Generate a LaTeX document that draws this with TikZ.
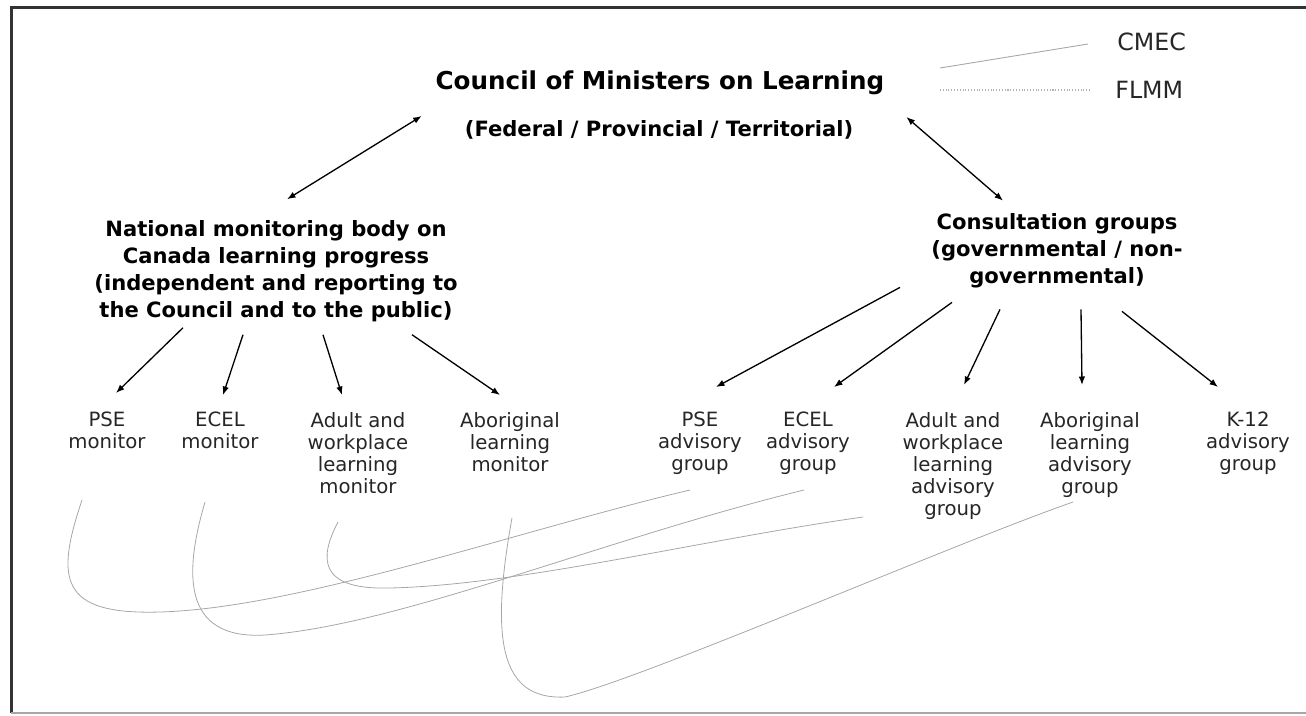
\documentclass[tikz,border=0pt]{standalone}
\usepackage{fontspec}
\setmainfont{DejaVu Sans}
\usetikzlibrary{arrows.meta,calc}

\begin{document}
\begin{tikzpicture}[x=0.2mm,y=-0.2mm,
    arr/.style={-{Latex[length=1.7mm,width=1.3mm]}, line width=0.75pt},
    twoway/.style={{Latex[length=1.7mm,width=1.3mm]}-{Latex[length=1.7mm,width=1.3mm]}, line width=0.75pt},
    link/.style={gray!70, line width=0.45pt},
    head/.style={font=\bfseries\fontsize{12}{15.3}\selectfont, align=center},
    small/.style={font=\fontsize{11.2}{12.5}\selectfont, align=center, inner sep=0pt, anchor=north, text=black!85},
    legend/.style={font=\fontsize{13.5}{16}\selectfont, inner sep=0pt, anchor=west, text=black!85}]
    \useasboundingbox (0,0) rectangle (1306,715);
    % frame
    \draw[black!80, line width=0.6mm] (1306,7) -- (11,7) -- (11,713);
    \draw[black!35, line width=0.4mm] (11,713) -- (1306,713);
    % council
    \node[font=\bfseries\fontsize{14}{17}\selectfont] (council) at (660,83) {Council of Ministers on Learning};
    \node[head] (fpt) at (659,130) {(Federal / Provincial / Territorial)};
    % legend
    \node[legend] (cmec) at (1117,42) {CMEC};
    \node[legend] (flmm) at (1115,90) {FLMM};
    \coordinate (cm) at (940,68); \coordinate (fl) at (940,90);
    \draw[gray!70, line width=0.5pt] (cm) -- ($(cmec.west)+(-29,2)$);
    \draw[gray!60, densely dotted, line width=0.6pt] (fl) -- ($(flmm.west)+(-25,0)$);
    % second level
    \node[head] (mon) at (276,271) {National monitoring body on\\Canada learning progress\\(independent and reporting to\\the Council and to the public)};
    \node[head] (cons) at (1057,251) {Consultation groups\\(governmental / non-\\governmental)};
    \draw[twoway] ($(fpt.west)+(-37,-14)$) -- ($(mon.north)+(11,-15)$);
    \draw[twoway] ($(fpt.east)+(47,-13)$) -- ($(cons.north)+(-54,-7)$);
    % monitors
    \node[small] (psem) at (107,412) {PSE\\monitor};
    \node[small] (ecelm) at (220,412) {ECEL\\monitor};
    \node[small] (adultm) at (358,412) {Adult and\\workplace\\learning\\monitor};
    \node[small] (abm) at (510,412) {Aboriginal\\learning\\monitor};
    \draw[arr] ($(mon.south)+(-93,0)$) -- ($(psem.north)+(9,-19)$);
    \draw[arr] ($(mon.south)+(-33,7)$) -- ($(ecelm.north)+(3,-17)$);
    \draw[arr] ($(mon.south)+(47,7)$) -- ($(adultm.north)+(-16,-17)$);
    \draw[arr] ($(mon.south)+(136,7)$) -- ($(abm.north)+(-10,-17)$);
    % advisory groups
    \node[small] (pseg) at (700,412) {PSE\\advisory\\group};
    \node[small] (ecelg) at (808,412) {ECEL\\advisory\\group};
    \node[small] (adultg) at (953,412) {Adult and\\workplace\\learning\\advisory\\group};
    \node[small] (abg) at (1090,412) {Aboriginal\\learning\\advisory\\group};
    \node[small] (k12g) at (1248,412) {K-12\\advisory\\group};
    \draw[arr] ($(cons.south)+(-157,-7)$) -- ($(pseg.north)+(16,-25)$);
    \draw[arr] ($(cons.south)+(-105,8)$) -- ($(ecelg.north)+(26,-25)$);
    \draw[arr] ($(cons.south)+(-57,15)$) -- ($(adultg.north)+(11,-27)$);
    \draw[arr] ($(cons.south)+(24,15)$) -- ($(abg.north)+(-8,-27)$);
    \draw[arr] ($(cons.south)+(65,17)$) -- ($(k12g.north)+(-30,-25)$);
    % links between monitors and groups
    \coordinate (l1a) at (82,500);  \coordinate (l1b) at (690,490);
    \coordinate (l2a) at (205,502); \coordinate (l2b) at (804,490);
    \coordinate (l3a) at (338,522); \coordinate (l3b) at (863,517);
    \coordinate (l4a) at (512,518); \coordinate (l4b) at (1073,502);
    \draw[link] (l1a) .. controls (55,580) and (60,615) .. (160,612) .. controls (300,608) and (520,530) .. (l1b);
    \draw[link] (l2a) .. controls (185,570) and (180,640) .. (265,635) .. controls (400,625) and (600,540) .. (l2b);
    \draw[link] (l3a) .. controls (318,560) and (320,590) .. (390,588) .. controls (520,585) and (700,540) .. (l3b);
    \draw[link] (l4a) .. controls (490,640) and (500,700) .. (565,697) .. controls (640,680) and (950,545) .. (l4b);
\end{tikzpicture}
\end{document}
